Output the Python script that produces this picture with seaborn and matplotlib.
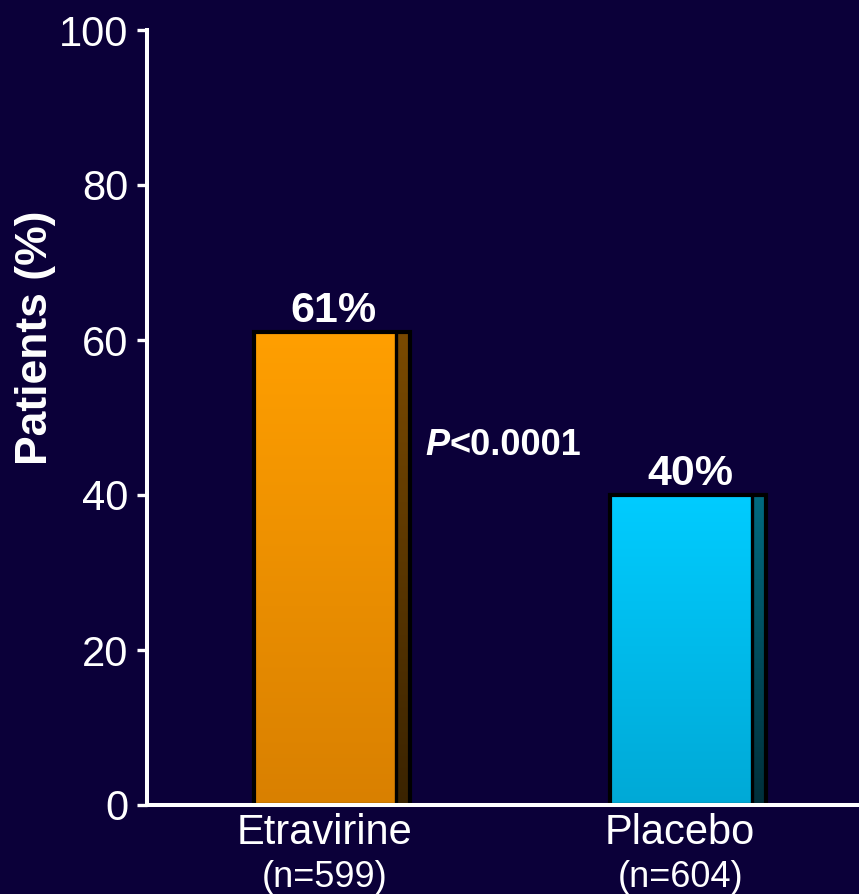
import numpy as np
import pandas as pd
import matplotlib
matplotlib.use("Agg")
import matplotlib.pyplot as plt
import matplotlib.transforms as mtransforms
from matplotlib.patches import Rectangle
from matplotlib.colors import LinearSegmentedColormap
import seaborn as sns

# Data
groups = ["Etravirine", "Placebo"]
group_n = ["(n=599)", "(n=604)"]
patients_pct = [61, 40]
p_value_text = "<0.0001"

# Styling
bg = "#0b0039"
face_top = ["#ff9f00", "#00ccff"]
face_bottom = ["#d98000", "#00a9d6"]
side_top = ["#7a4a00", "#006a80"]
side_bottom = ["#3a2300", "#002f3a"]

sns.set_theme(style="white")
plt.rcParams["font.family"] = ["Liberation Sans", "DejaVu Sans"]

df = pd.DataFrame({"group": groups, "pct": patients_pct})

fig = plt.figure(figsize=(8.59, 8.94), dpi=100, facecolor=bg)
ax = fig.add_axes([147 / 859, 89 / 894, 712 / 859, 775 / 894])
ax.set_facecolor(bg)

sns.barplot(data=df, x="group", y="pct", order=groups, width=0.44,
            color="#ff9f00", edgecolor="black", linewidth=0, ax=ax,
            saturation=1)

ax.set_xlim(-0.52, 1.48)
ax.set_ylim(0, 100)

side_frac = 0.095
grad = np.linspace(1, 0, 256).reshape(-1, 1)
for i, patch in enumerate(ax.patches):
    x0, w, h = patch.get_x(), patch.get_width(), patch.get_height()
    patch.set_facecolor("none")
    # front face gradient
    cmap_f = LinearSegmentedColormap.from_list(
        f"f{i}", [face_bottom[i], face_top[i]])
    xs = x0 + w * (1 - side_frac)
    ax.imshow(grad, cmap=cmap_f, aspect="auto", extent=[x0, xs, 0, h],
              zorder=2, interpolation="bilinear", vmin=0, vmax=1)
    # shaded side strip
    cmap_s = LinearSegmentedColormap.from_list(
        f"s{i}", [side_bottom[i], side_top[i]])
    ax.imshow(grad, cmap=cmap_s, aspect="auto", extent=[xs, x0 + w, 0, h],
              zorder=2, interpolation="bilinear", vmin=0, vmax=1)
    ax.plot([xs, xs], [0, h], color="black", lw=2.4, zorder=3,
            solid_capstyle="butt")
    ax.add_patch(Rectangle((x0, 0), w, h, fill=False, edgecolor="black",
                           lw=3.0, zorder=3, joinstyle="miter"))
    ax.text(x0 + w / 2 + 0.005, h + 0.1, f"{patients_pct[i]}%", ha="center",
            va="bottom", color="white", fontsize=31, fontweight="bold",
            zorder=5)

ax.set_xlim(-0.52, 1.48)
ax.set_ylim(0, 100)

# P value annotation: italic P followed by the bold comparison
p_y = 46.4
p_left = 0.262
it = ax.text(p_left, p_y, "P", ha="left", va="center", color="white",
             fontsize=26, fontweight="bold", fontstyle="italic", zorder=5)
fig.canvas.draw()
ib = it.get_window_extent()
ax.annotate(p_value_text, xy=(ib.x1, (ib.y0 + ib.y1) / 2),
            xycoords="figure pixels", ha="left", va="center", color="white",
            fontsize=26, fontweight="bold")

# Axes styling
for s in ["top", "right"]:
    ax.spines[s].set_visible(False)
for s in ["left", "bottom"]:
    ax.spines[s].set_color("white")
    ax.spines[s].set_linewidth(2.9)
    ax.spines[s].set_zorder(4)
ax.spines["bottom"].set_capstyle("round")

ax.set_yticks([0, 20, 40, 60, 80, 100])
ax.tick_params(axis="y", left=True, length=7.5, width=2.4, color="white",
               labelcolor="white", labelsize=30, pad=6)
ax.tick_params(axis="x", bottom=False, length=0, labelcolor="white",
               labelsize=30, pad=6)
ax.set_xlabel("")
ax.set_ylabel("")
ax.set_xticks(range(len(groups)))
ax.set_xticklabels(groups)

# category labels sit slightly left of the bar centres
shift = mtransforms.ScaledTranslation(-8 / 100, 0, fig.dpi_scale_trans)
for lab in ax.get_xticklabels():
    lab.set_transform(lab.get_transform() + shift)

for i, n in enumerate(group_n):
    ax.annotate(n, xy=(i, 0), xycoords=("data", "axes fraction"),
                xytext=(-5.5, -52.5), textcoords="offset points", ha="center",
                va="center", color="white", fontsize=26)

fig.text(36 / 859, 1 - 338 / 894, "Patients (%)", rotation=90, ha="center",
         va="center", color="white", fontsize=32, fontweight="bold")

fig.savefig("out.png", dpi=100, facecolor=bg)
